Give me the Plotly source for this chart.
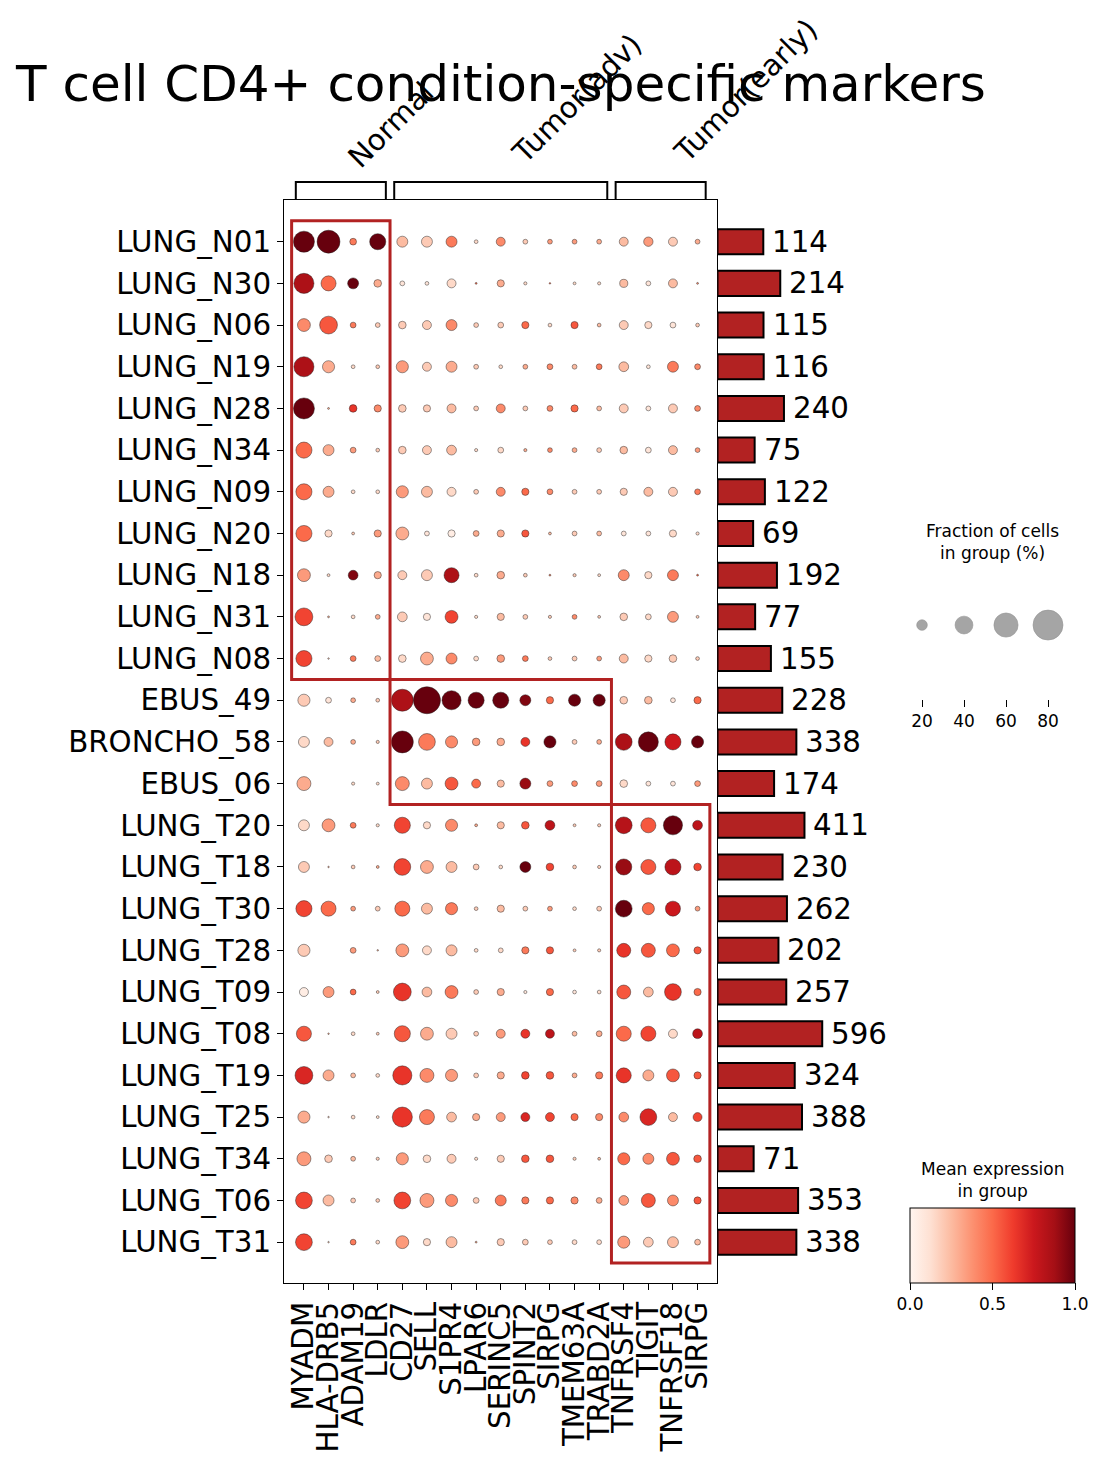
import numpy as np
import plotly.graph_objects as go

# ---------------- data ----------------
genes = ["MYADM", "HLA-DRB5", "ADAM19", "LDLR", "CD27", "SELL", "S1PR4", "LPAR6",
         "SERINC5", "SPINT2", "SIRPG", "TMEM63A", "TRABD2A", "TNFRSF4", "TIGIT",
         "TNFRSF18", "SIRPG"]

samples = ["LUNG_N01", "LUNG_N30", "LUNG_N06", "LUNG_N19", "LUNG_N28", "LUNG_N34",
           "LUNG_N09", "LUNG_N20", "LUNG_N18", "LUNG_N31", "LUNG_N08",
           "EBUS_49", "BRONCHO_58", "EBUS_06",
           "LUNG_T20", "LUNG_T18", "LUNG_T30", "LUNG_T28", "LUNG_T09", "LUNG_T08",
           "LUNG_T19", "LUNG_T25", "LUNG_T34", "LUNG_T06", "LUNG_T31"]

cell_counts = [114, 214, 115, 116, 240, 75, 122, 69, 192, 77, 155,
               228, 338, 174,
               411, 230, 262, 202, 257, 596, 324, 388, 71, 353, 338]

# group name, first gene col, last gene col, first sample row, last sample row
group_names = ["Normal", "Tumor(adv)", "Tumor(early)"]
group_gene_span = [(0, 3), (4, 12), (13, 16)]
group_sample_span = [(0, 10), (11, 13), (14, 24)]

# fraction of cells in group (%)
frac_normal = [
    [50, 56, 11, 35, 21, 21, 21, 5, 16, 7, 7, 7, 7, 16, 17, 16, 7],
    [47, 32, 21, 13, 7, 5, 16, 2, 12, 4, 1.5, 3.5, 4, 14, 7, 16, 2],
    [26, 40, 9, 7, 13, 16, 21, 7, 9, 12, 5, 12, 5, 16, 12, 9, 5],
    [47, 24, 5, 5, 24, 16, 21, 7, 5, 7, 9, 7, 9, 18, 5, 21, 9],
    [50, 2, 13, 12, 13, 12, 16, 7, 16, 7, 9, 12, 7, 16, 7, 16, 9],
    [35, 21, 9, 5, 13, 16, 18, 4, 9, 4, 7, 7, 7, 13, 9, 16, 7],
    [35, 21, 5, 5, 24, 21, 16, 7, 16, 12, 9, 7, 7, 12, 16, 16, 9],
    [35, 12, 3.5, 12, 26, 7, 12, 9, 12, 12, 3.5, 7, 7, 7, 7, 12, 4],
    [26, 3.5, 18, 12, 16, 21, 32, 5, 13, 5, 2, 4, 3.5, 21, 12, 21, 2],
    [40, 2, 5, 7, 18, 12, 26, 4, 12, 7, 4, 7, 3.5, 13, 9, 21, 3.5],
    [35, 1.5, 9, 9, 13, 26, 21, 7, 13, 9, 5, 7, 7, 16, 12, 13, 5],
]
frac_adv = [
    [24, 9, 7, 5, 53, 70, 44, 35, 35, 21, 12, 24, 24, 13, 13, 7, 12],
    [21, 16, 7, 4, 53, 37, 24, 13, 13, 16, 24, 7, 7, 37, 47, 35, 24],
    [29, 0, 4, 3.5, 29, 21, 26, 16, 12, 21, 9, 9, 9, 13, 7, 7, 9],
]
frac_early = [
    [21, 26, 9, 4, 35, 12, 24, 3.5, 12, 13, 18, 3.5, 4, 37, 32, 44, 18],
    [21, 1.5, 5, 3.5, 37, 26, 21, 9, 5, 21, 13, 5, 4, 35, 32, 35, 13],
    [35, 32, 7, 7, 32, 21, 24, 5, 12, 7, 7, 5, 7, 37, 24, 32, 7],
    [24, 0, 9, 1.5, 26, 16, 21, 5, 7, 12, 12, 3.5, 4, 29, 29, 26, 12],
    [16, 21, 9, 3.5, 40, 18, 26, 7, 12, 4, 12, 5, 5, 29, 18, 37, 12],
    [32, 1.5, 5, 3.5, 35, 26, 21, 7, 16, 16, 16, 7, 9, 32, 32, 16, 18],
    [40, 21, 7, 5, 44, 29, 24, 7, 12, 13, 13, 7, 12, 32, 21, 26, 12],
    [24, 1.5, 5, 3.5, 47, 32, 18, 12, 16, 16, 16, 12, 12, 18, 37, 16, 16],
    [29, 13, 7, 4, 24, 13, 16, 4, 12, 13, 13, 4, 3.5, 24, 21, 26, 13],
    [37, 21, 7, 5, 37, 29, 24, 9, 21, 12, 12, 12, 9, 18, 29, 21, 12],
    [37, 1.5, 9, 5, 26, 12, 21, 2, 12, 9, 7, 7, 7, 24, 18, 21, 9],
]

# mean expression in group (0..1)
expr_normal = [
    [1.0, 1.0, 0.45, 1.0, 0.25, 0.2, 0.45, 0.15, 0.4, 0.2, 0.35, 0.35, 0.3, 0.25, 0.35, 0.2, 0.3],
    [0.85, 0.5, 1.0, 0.3, 0.1, 0.1, 0.15, 0.5, 0.3, 0.15, 0.5, 0.15, 0.15, 0.25, 0.1, 0.25, 0.4],
    [0.4, 0.55, 0.45, 0.2, 0.2, 0.2, 0.4, 0.2, 0.2, 0.5, 0.15, 0.55, 0.25, 0.2, 0.15, 0.1, 0.2],
    [0.85, 0.3, 0.15, 0.2, 0.35, 0.2, 0.3, 0.2, 0.15, 0.3, 0.4, 0.25, 0.45, 0.25, 0.1, 0.45, 0.4],
    [1.0, 0.3, 0.65, 0.4, 0.2, 0.2, 0.25, 0.2, 0.4, 0.2, 0.4, 0.5, 0.25, 0.2, 0.1, 0.2, 0.4],
    [0.5, 0.3, 0.35, 0.2, 0.2, 0.2, 0.25, 0.15, 0.15, 0.3, 0.4, 0.3, 0.2, 0.25, 0.1, 0.25, 0.35],
    [0.5, 0.3, 0.15, 0.15, 0.35, 0.25, 0.15, 0.2, 0.4, 0.5, 0.4, 0.2, 0.2, 0.2, 0.25, 0.2, 0.45],
    [0.5, 0.15, 0.2, 0.35, 0.3, 0.1, 0.05, 0.3, 0.3, 0.55, 0.25, 0.2, 0.25, 0.1, 0.1, 0.15, 0.15],
    [0.35, 0.15, 0.95, 0.3, 0.2, 0.2, 0.85, 0.15, 0.3, 0.2, 0.4, 0.2, 0.15, 0.4, 0.15, 0.45, 0.5],
    [0.6, 0.3, 0.15, 0.3, 0.2, 0.1, 0.6, 0.15, 0.25, 0.2, 0.2, 0.4, 0.2, 0.2, 0.15, 0.35, 0.2],
    [0.6, 0.2, 0.45, 0.25, 0.15, 0.3, 0.4, 0.15, 0.35, 0.45, 0.2, 0.2, 0.35, 0.25, 0.15, 0.2, 0.2],
]
expr_adv = [
    [0.2, 0.1, 0.3, 0.2, 0.85, 1.0, 1.0, 1.0, 1.0, 0.95, 0.5, 1.0, 1.0, 0.2, 0.25, 0.1, 0.5],
    [0.15, 0.25, 0.3, 0.2, 1.0, 0.45, 0.4, 0.35, 0.3, 0.65, 1.0, 0.2, 0.3, 0.85, 1.0, 0.75, 1.0],
    [0.3, 0.0, 0.15, 0.15, 0.4, 0.25, 0.55, 0.5, 0.25, 0.9, 0.35, 0.4, 0.35, 0.15, 0.1, 0.1, 0.35],
]
expr_early = [
    [0.15, 0.35, 0.45, 0.15, 0.6, 0.15, 0.4, 0.3, 0.25, 0.55, 0.8, 0.2, 0.2, 0.82, 0.55, 1.0, 0.8],
    [0.2, 0.3, 0.2, 0.3, 0.6, 0.3, 0.25, 0.2, 0.15, 1.0, 0.6, 0.2, 0.2, 0.9, 0.55, 0.8, 0.6],
    [0.6, 0.5, 0.35, 0.2, 0.5, 0.25, 0.45, 0.2, 0.25, 0.2, 0.35, 0.15, 0.2, 1.0, 0.5, 0.75, 0.35],
    [0.2, 0.0, 0.35, 0.3, 0.35, 0.15, 0.25, 0.15, 0.15, 0.45, 0.55, 0.2, 0.2, 0.65, 0.55, 0.5, 0.55],
    [0.05, 0.35, 0.5, 0.2, 0.65, 0.25, 0.45, 0.2, 0.3, 0.1, 0.5, 0.1, 0.15, 0.55, 0.25, 0.65, 0.5],
    [0.55, 0.3, 0.15, 0.2, 0.55, 0.3, 0.2, 0.2, 0.35, 0.65, 0.8, 0.25, 0.3, 0.5, 0.6, 0.15, 0.8],
    [0.7, 0.3, 0.25, 0.15, 0.65, 0.4, 0.35, 0.2, 0.3, 0.6, 0.55, 0.3, 0.45, 0.65, 0.3, 0.55, 0.55],
    [0.3, 0.2, 0.15, 0.15, 0.65, 0.45, 0.25, 0.3, 0.35, 0.7, 0.6, 0.5, 0.4, 0.4, 0.7, 0.25, 0.6],
    [0.35, 0.2, 0.25, 0.2, 0.35, 0.15, 0.2, 0.15, 0.2, 0.55, 0.55, 0.2, 0.25, 0.5, 0.4, 0.55, 0.55],
    [0.6, 0.25, 0.2, 0.2, 0.6, 0.35, 0.4, 0.2, 0.45, 0.45, 0.5, 0.4, 0.3, 0.35, 0.55, 0.4, 0.55],
    [0.6, 0.2, 0.45, 0.15, 0.35, 0.15, 0.25, 0.3, 0.2, 0.2, 0.2, 0.15, 0.15, 0.35, 0.2, 0.25, 0.25],
]

size_legend_values = [20, 40, 60, 80]
colorbar_ticks = [0.0, 0.5, 1.0]
title_text = "T cell CD4+ condition-specific markers"
size_legend_title = "Fraction of cells<br>in group (%)"
color_legend_title = "Mean expression<br>in group"

# ---------------- styling ----------------
W, H = 1104, 1463
OFF = 8  # page body margin in the browser
FONT = "DejaVu Sans"
FS = 29.3
REDS = [[0.0, "rgb(255,245,240)"], [0.125, "rgb(254,224,210)"], [0.25, "rgb(252,187,161)"],
        [0.375, "rgb(252,146,114)"], [0.5, "rgb(251,106,74)"], [0.625, "rgb(239,59,44)"],
        [0.75, "rgb(203,24,29)"], [0.875, "rgb(165,15,21)"], [1.0, "rgb(103,0,13)"]]
BAR_COLOR = "#b22222"
PX_PER_SQRT = 4.29


def px(x):
    return (x - OFF) / W


def py(y):
    return 1 - (y - OFF) / H


def dot_size(pct):
    return 1.12 * np.asarray(pct, float) ** 0.75


frac = np.array(frac_normal + frac_adv + frac_early, float)
expr = np.array(expr_normal + expr_adv + expr_early, float)
rr, cc = np.nonzero(frac > 0)

n_rows = len(samples)
n_cols = len(genes)
y_range = [n_rows - 0.02, -1.0]
x_range = [-0.81, n_cols - 0.23]

fig = go.Figure()

fig.add_trace(go.Scatter(
    x=cc, y=rr, mode="markers", xaxis="x", yaxis="y", hoverinfo="skip",
    marker=dict(size=dot_size(frac[rr, cc]), color=expr[rr, cc], colorscale=REDS,
                cmin=0, cmax=1, opacity=1,
                line=dict(width=0.6, color="rgba(30,30,30,0.75)"),
                showscale=True,
                colorbar=dict(orientation="h", x=px(992.5), xanchor="center",
                              y=py(1208), yanchor="top", len=165, lenmode="pixels",
                              thickness=75, thicknessmode="pixels",
                              outlinewidth=1, outlinecolor="black",
                              tickvals=colorbar_ticks,
                              ticktext=[f"{v:.1f}" for v in colorbar_ticks],
                              ticks="outside", ticklen=7, tickcolor="black",
                              tickfont=dict(size=17, family=FONT, color="black"),
                              xpad=0, ypad=0)),
))

# total cell count bars (sqrt scaled length)
sq = np.sqrt(np.array(cell_counts, float))
fig.add_trace(go.Bar(
    x=sq, y=list(range(n_rows)), orientation="h", xaxis="x2", yaxis="y2",
    width=0.6, marker=dict(color=BAR_COLOR, line=dict(color="black", width=2)),
    hoverinfo="skip",
))

# size legend
fig.add_trace(go.Scatter(
    x=size_legend_values, y=[0] * len(size_legend_values), mode="markers",
    xaxis="x3", yaxis="y3", hoverinfo="skip",
    marker=dict(size=dot_size(size_legend_values), color="#808080",
                line=dict(width=0.6, color="#666666")),
))

axis_common = dict(showgrid=False, zeroline=False)
fig.update_layout(
    width=W, height=H, margin=dict(l=0, r=0, t=0, b=0),
    paper_bgcolor="white", plot_bgcolor="white", showlegend=False,
    font=dict(family=FONT, color="black"),
    xaxis=dict(domain=[px(284), px(716.5)], range=x_range, anchor="y",
               tickmode="array", tickvals=list(range(n_cols)), ticktext=genes,
               tickangle=-90, ticks="outside", ticklen=6, tickwidth=1.2, tickcolor="black",
               showline=True, linecolor="black", linewidth=1.2, mirror=True,
               tickfont=dict(size=FS, family=FONT, color="black"), **axis_common),
    yaxis=dict(domain=[py(1283), py(200)], range=y_range, anchor="x",
               tickmode="array", tickvals=list(range(n_rows)), ticktext=samples,
               ticks="outside", ticklen=6, tickwidth=1.2, tickcolor="black",
               showline=True, linecolor="black", linewidth=1.2, mirror=True,
               tickfont=dict(size=FS, family=FONT, color="black"), **axis_common),
    xaxis2=dict(domain=[px(717.5), 1.0], range=[0, (W - 717.5 + OFF) / PX_PER_SQRT],
                anchor="y2", visible=False, **axis_common),
    yaxis2=dict(domain=[py(1283), py(200)], range=y_range, anchor="x2",
                visible=False, **axis_common),
    xaxis3=dict(domain=[px(901), px(1069)], range=[10, 90], anchor="y3",
                tickmode="array", tickvals=size_legend_values,
                ticks="outside", ticklen=7, tickwidth=1.2, tickcolor="black",
                showline=False, tickfont=dict(size=17, family=FONT, color="black"),
                **axis_common),
    yaxis3=dict(domain=[py(699), py(600)], range=[-0.747, 0.253], anchor="x3",
                visible=False, **axis_common),
)

shapes = []
annotations = []

# red group boxes
for (c0, c1), (r0, r1) in zip(group_gene_span, group_sample_span):
    shapes.append(dict(type="rect", xref="x", yref="y", x0=c0 - 0.5, x1=c1 + 0.5,
                       y0=r0 - 0.5, y1=r1 + 0.5,
                       line=dict(color=BAR_COLOR, width=3), layer="above"))

# brackets and group labels
label_shift = [50, 76, 85]
label_y = [125, 99, 91]
for name, (c0, c1), sh, ly in zip(group_names, group_gene_span, label_shift, label_y):
    x0, x1 = c0 - 0.33, c1 + 0.33
    yt, yb = py(182), py(199)
    shapes.append(dict(type="path", xref="x", yref="paper",
                       path=f"M {x0},{yb} L {x0},{yt} L {x1},{yt} L {x1},{yb}",
                       line=dict(color="black", width=2)))
    annotations.append(dict(text=name, xref="x", yref="paper", x=(c0 + c1) / 2,
                            xshift=sh, y=py(ly), textangle=-45,
                            xanchor="center", yanchor="middle", showarrow=False,
                            font=dict(size=FS, family=FONT, color="black")))

# bar value labels
for i, (c, s) in enumerate(zip(cell_counts, sq)):
    annotations.append(dict(text=str(c), xref="x2", yref="y2", x=s, y=i,
                            xanchor="left", yanchor="middle", xshift=7,
                            showarrow=False,
                            font=dict(size=FS, family=FONT, color="black")))

annotations.append(dict(text=title_text, xref="paper", yref="paper", x=px(500),
                        y=py(84), xanchor="center", yanchor="middle", showarrow=False,
                        font=dict(size=50, family=FONT, color="black")))
annotations.append(dict(text=size_legend_title, xref="paper", yref="paper", x=px(992),
                        y=py(542), xanchor="center", yanchor="middle", showarrow=False,
                        font=dict(size=17, family=FONT, color="black")))
annotations.append(dict(text=color_legend_title, xref="paper", yref="paper", x=px(992),
                        y=py(1180), xanchor="center", yanchor="middle", showarrow=False,
                        font=dict(size=17, family=FONT, color="black")))

fig.update_layout(shapes=shapes, annotations=annotations)
fig.write_html("out.html")
